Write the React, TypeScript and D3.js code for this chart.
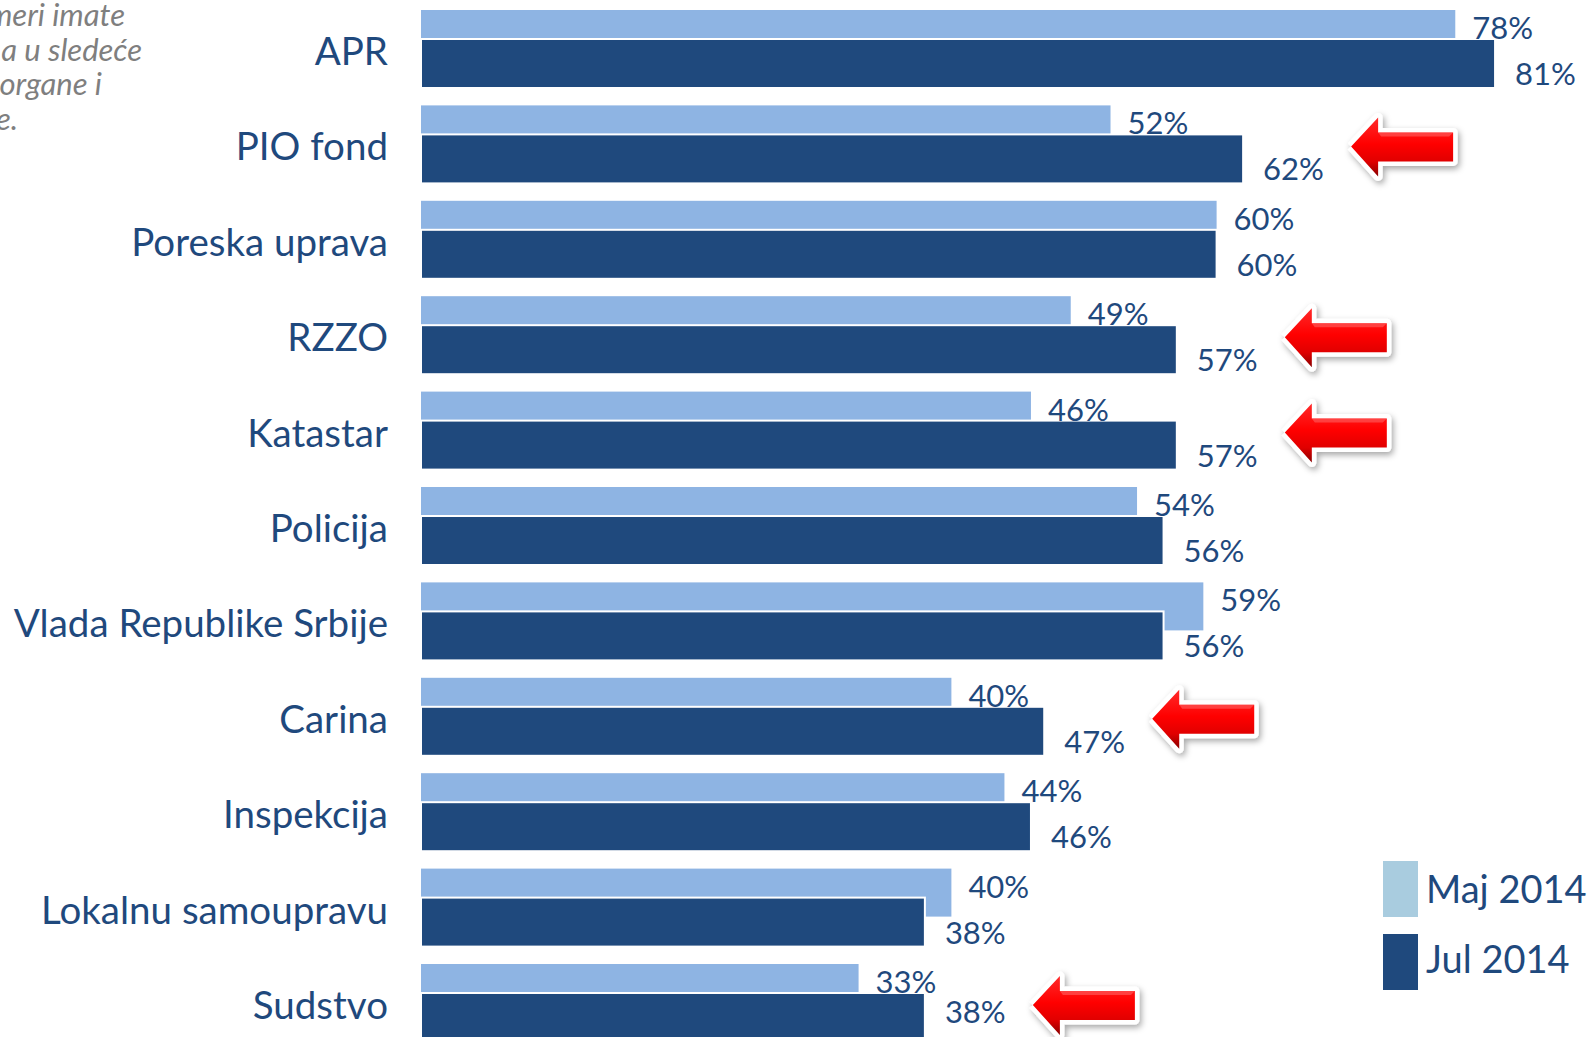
import React from "react";
import * as d3 from "d3";

const categories = [
  "APR",
  "PIO fond",
  "Poreska uprava",
  "RZZO",
  "Katastar",
  "Policija",
  "Vlada Republike Srbije",
  "Carina",
  "Inspekcija",
  "Lokalnu samoupravu",
  "Sudstvo",
];
const maj2014 = [78, 52, 60, 49, 46, 54, 59, 40, 44, 40, 33];
const jul2014 = [81, 62, 60, 57, 57, 56, 56, 47, 46, 38, 38];
const flagged = ["PIO fond", "RZZO", "Katastar", "Carina", "Sudstvo"];
const seriesNames = ["Maj 2014", "Jul 2014"];
const questionLines = ["meri imate", "a u sledeće", "organe i", "e."];

const W = 1590;
const H = 1037;
const LIGHT = "#8EB4E3";
const DARK = "#1F497D";
const LEGEND_LIGHT = "#A9CCDF";
const TEXT = "#1F497D";
const FONT = "Lato, 'Open Sans', sans-serif";

export default function App() {
  const x = d3.scaleLinear().domain([0, 100]).range([421, 421 + 1326]);
  const y = d3
    .scaleBand<string>()
    .domain(categories)
    .range([10, 10 + categories.length * 95.4])
    .padding(0);

  const arrowPath = d3.line()([
    [0, 0],
    [27, -29],
    [27, -14],
    [102, -14],
    [102, 15],
    [27, 15],
    [27, 30],
    [0, 0],
  ] as [number, number][]) as string;

  const titleRight = [125, 142, 102, 18];

  return (
    <svg
      width={W}
      height={H}
      style={{ position: "absolute", left: 0, top: 0, background: "#fff" }}
      fontFamily={FONT}
    >
      <defs>
        <linearGradient id="arrowGrad" x1="0" y1="0" x2="0" y2="1">
          <stop offset="0" stopColor="#ff2a2a" />
          <stop offset="0.45" stopColor="#ff0000" />
          <stop offset="0.75" stopColor="#e00000" />
          <stop offset="1" stopColor="#8a0000" />
        </linearGradient>
        <filter id="shadow" x="-20%" y="-30%" width="140%" height="160%">
          <feDropShadow dx="2" dy="3" stdDeviation="3" floodColor="#000" floodOpacity="0.35" />
        </filter>
      </defs>

      {questionLines.map((t, i) => (
        <text
          key={t}
          x={titleRight[i]}
          y={26 + i * 34.6}
          textAnchor="end"
          fontStyle="italic"
          fontSize={31}
          fill="#7F7F7F"
        >
          {t}
        </text>
      ))}

      {categories.map((c, i) => {
        const gy = y(c) as number;
        return (
          <g key={c}>
            <rect x={x(0)} y={gy} width={x(maj2014[i]) - x(0)} height={48} fill={LIGHT} />
            <rect
              x={x(0)}
              y={gy + 29}
              width={x(jul2014[i]) - x(0)}
              height={49}
              fill={DARK}
              stroke="#fff"
              strokeWidth={2}
            />
            <text x={388} y={gy + 55} textAnchor="end" fontSize={38.5} fill={TEXT}>
              {c}
            </text>
            <text x={x(maj2014[i]) + 17} y={gy + 29} fontSize={31} fill={TEXT}>
              {maj2014[i]}%
            </text>
            <text
              x={x(jul2014[i]) + 20}
              y={Math.min(gy + 75, H - 14)}
              fontSize={31}
              fill={TEXT}
            >
              {jul2014[i]}%
            </text>
            {flagged.includes(c) && (
              <g transform={`translate(${x(jul2014[i]) + 108},${gy + 41})`}>
                <path
                  d={arrowPath}
                  fill="#fff"
                  stroke="#fff"
                  strokeWidth={9}
                  strokeLinejoin="round"
                  filter="url(#shadow)"
                />
                <path d={arrowPath} fill="url(#arrowGrad)" />
                <path d="M27,-14 L102,-14 L98,-10 L30,-10 Z" fill="#ff6060" opacity={0.6} />
              </g>
            )}
          </g>
        );
      })}

      {seriesNames.map((s, i) => (
        <g key={s}>
          <rect
            x={1383}
            y={861 + i * 73}
            width={35}
            height={56}
            fill={i === 0 ? LEGEND_LIGHT : DARK}
          />
          <text x={1426} y={903 + i * 70} fontSize={38} fill={TEXT}>
            {s}
          </text>
        </g>
      ))}
    </svg>
  );
}
